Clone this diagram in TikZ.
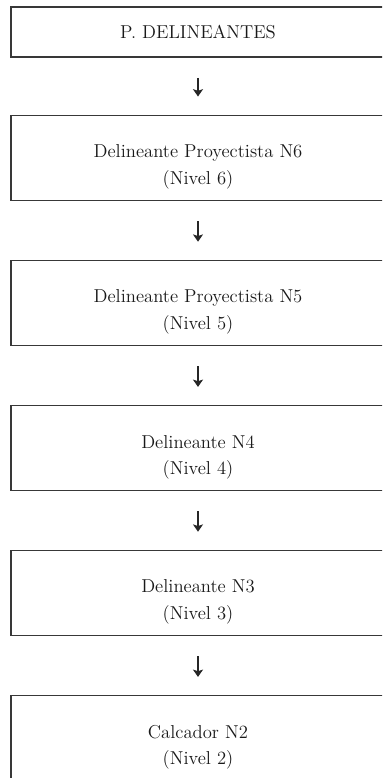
\documentclass[tikz,border=0pt]{standalone}
\usetikzlibrary{arrows.meta}
\newcommand{\stagestrut}{\rule{0pt}{23.5pt}}
\begin{document}
\begin{tikzpicture}[x=0.75pt,y=-0.75pt,
  boxbase/.style={draw=black!78, line width=1.15pt, text=black!90, align=center,
    minimum width=280.5pt, inner sep=0pt,
    font=\fontsize{14}{20}\selectfont},
  head/.style={boxbase, minimum height=37.5pt},
  stage/.style={boxbase, minimum height=63.75pt},
  link/.style={draw=black!85, line width=1.1pt,
    -{Stealth[length=5.5pt,width=7.5pt,inset=1.2pt]},
    shorten <=15pt, shorten >=13.5pt}]
\useasboundingbox (0,0) rectangle (382,778);
\clip (0,0) rectangle (382,778);
\node[head]  (b1) at (198,32.2)  {P. DELINEANTES};
\node[stage] (b2) at (198,157.8) {\stagestrut Delineante Proyectista N6\\(Nivel 6)};
\node[stage] (b3) at (198,303)   {\stagestrut Delineante Proyectista N5\\(Nivel 5)};
\node[stage] (b4) at (198,448.2) {\stagestrut Delineante N4\\(Nivel 4)};
\node[stage] (b5) at (198,593)   {\stagestrut Delineante N3\\(Nivel 3)};
\node[stage] (b6) at (198,738.2) {\stagestrut Calcador N2\\(Nivel 2)};
\draw[link] (b1) -- (b2);
\draw[link] (b2) -- (b3);
\draw[link] (b3) -- (b4);
\draw[link] (b4) -- (b5);
\draw[link] (b5) -- (b6);
\end{tikzpicture}
\end{document}
